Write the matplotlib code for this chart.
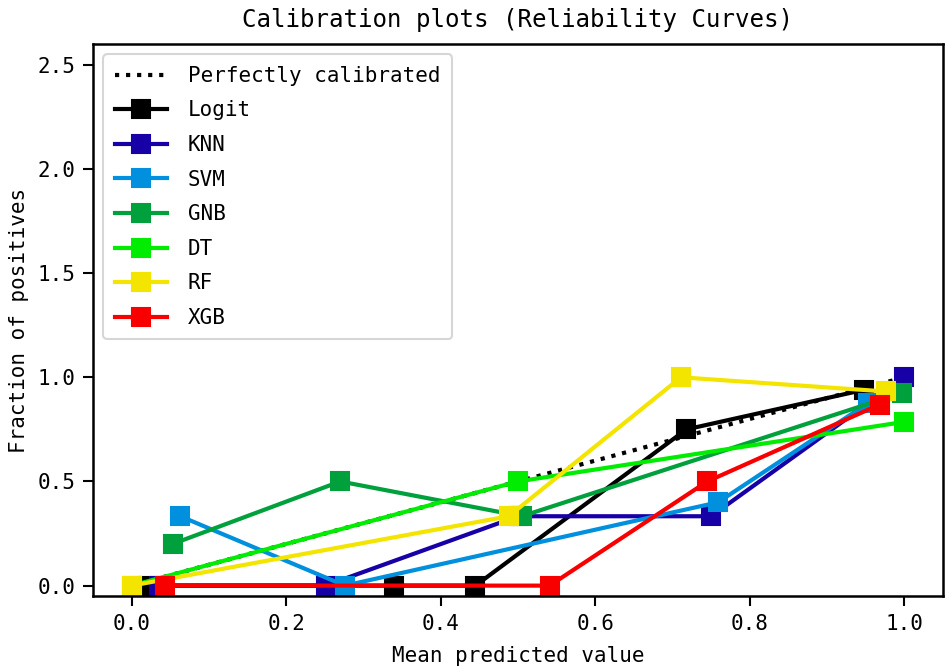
import matplotlib
matplotlib.use("Agg")
import matplotlib.pyplot as plt

# classifiers in plotting order
names = ["Logit", "KNN", "SVM", "GNB", "DT", "RF", "XGB"]

# mean predicted value / fraction of positives per bin
logit_x = [0.021, 0.340, 0.445, 0.718, 0.948]
logit_y = [0.0, 0.0, 0.0, 0.75, 0.94]
knn_x = [0.035, 0.251, 0.500, 0.750, 1.000]
knn_y = [0.0, 0.0, 0.333, 0.333, 1.0]
svm_x = [0.063, 0.276, 0.759, 0.953]
svm_y = [0.333, 0.0, 0.4, 0.876]
gnb_x = [0.053, 0.270, 0.505, 0.997]
gnb_y = [0.2, 0.5, 0.333, 0.925]
dt_x = [0.0, 0.500, 1.000]
dt_y = [0.0, 0.5, 0.786]
rf_x = [0.0, 0.488, 0.711, 0.976]
rf_y = [0.0, 0.333, 1.0, 0.932]
xgb_x = [0.043, 0.541, 0.745, 0.968]
xgb_y = [0.0, 0.0, 0.5, 0.869]

xs = [logit_x, knn_x, svm_x, gnb_x, dt_x, rf_x, xgb_x]
ys = [logit_y, knn_y, svm_y, gnb_y, dt_y, rf_y, xgb_y]

plt.rcParams['font.family'] = ['DejaVu Sans Mono', 'Noto Sans CJK SC']

fig = plt.figure(figsize=(6.3, 4.4467), dpi=150)
ax = fig.add_axes([0.0984, 0.1064, 0.8994, 0.8276])

ax.plot([0, 1], [0, 1], "k:", lw=2, label="Perfectly calibrated")

cmap = plt.cm.nipy_spectral
for i, (name, x, y) in enumerate(zip(names, xs, ys)):
    ax.plot(x, y, "s-", color=cmap(float(i) / len(names)), lw=2,
            markersize=8.5, label=name)

ax.set_xlim(-0.05, 1.05)
ax.set_ylim(-0.05, 2.6)
ax.set_xticks([0.0, 0.2, 0.4, 0.6, 0.8, 1.0])
ax.set_yticks([0.0, 0.5, 1.0, 1.5, 2.0, 2.5])
ax.tick_params(labelsize=10, width=1, length=5)
for s in ax.spines.values():
    s.set_linewidth(1.2)

ax.set_title("Calibration plots (Reliability Curves)", fontsize=11.6, pad=8)
ax.set_xlabel("Mean predicted value", fontsize=10, labelpad=6)
ax.set_ylabel("Fraction of positives", fontsize=10)
ax.legend(loc="upper left", fontsize=10, handlelength=2.5,
          labelspacing=0.7, handletextpad=1.0, borderpad=0.55)

fig.savefig("out.png", dpi=150)
